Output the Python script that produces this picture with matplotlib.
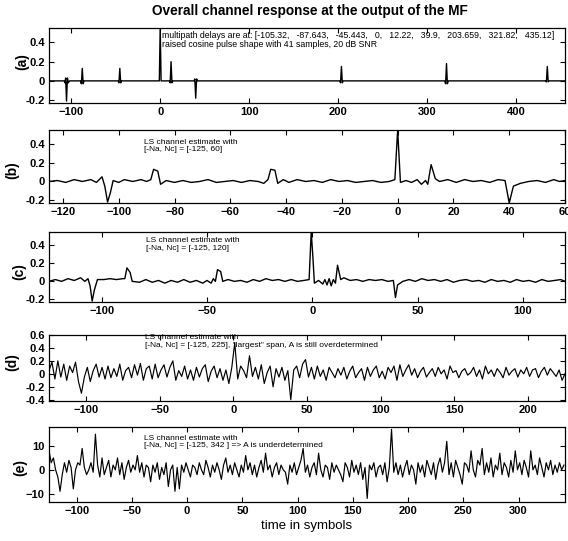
import numpy as np
import matplotlib
matplotlib.use('Agg')
import matplotlib.pyplot as plt

plt.rcParams['font.family'] = ['Liberation Sans', 'DejaVu Sans']

# (a) overall channel response, break points
a_x = [-125, -108, -107, -106.3, -105.3, -104.3, -103.3, -102,
       -89.6, -88.6, -87.6, -86.6, -85.6,
       -47.4, -46.4, -45.4, -44.4, -43.4,
       -1, 0, 1,
       10.2, 11.2, 12.2, 13.2, 14.2,
       37.9, 38.9, 39.9, 40.9, 41.9,
       201.7, 202.7, 203.7, 204.7, 205.7,
       319.8, 320.8, 321.8, 322.8, 323.8,
       433.1, 434.1, 435.1, 436.1, 437.1, 455]
a_y = [0.0, 0.0, -0.02, 0.03, -0.21, 0.03, -0.02, 0.0,
       0.0, -0.03, 0.13, -0.03, 0.0,
       0.0, -0.02, 0.13, -0.02, 0.0,
       0.0, 0.56, 0.0,
       0.0, -0.02, 0.2, -0.02, 0.0,
       0.0, 0.02, -0.18, 0.02, 0.0,
       0.0, -0.02, 0.15, -0.02, 0.0,
       0.0, -0.03, 0.18, -0.03, 0.0,
       0.0, -0.01, 0.15, -0.01, 0.0, 0.0]

# (b) LS estimate, [-125, 60]
b_x = [-125, -122, -119, -116, -113, -110, -108, -106, -105, -104, -103, -102,
       -100, -98, -95, -92, -90, -88.5, -87.5, -86, -85, -83, -80, -77, -74,
       -71, -68, -65, -62, -59, -56, -53, -50, -48, -46.5, -45.5, -44, -43,
       -41, -39, -36, -33, -30, -27, -24, -21, -18, -15, -12, -9, -6, -3, -1,
       0, 1, 3, 5, 7, 8.5, 10, 10.8, 12, 13.5, 15, 18, 21, 24, 27, 30, 33, 36,
       38.5, 40, 41.5, 44, 47, 50, 53, 56, 58, 60]
b_y = [0.0, 0.01, -0.01, 0.02, 0.0, 0.02, -0.01, 0.05, -0.05, -0.22, -0.12, 0.01,
       -0.01, 0.02, 0.0, 0.02, 0.0, 0.02, 0.13, 0.11, -0.03, 0.01, -0.01, 0.01, -0.01,
       0.0, 0.02, -0.01, 0.0, 0.01, -0.01, 0.01, 0.0, -0.02, 0.02, 0.13, 0.12, -0.02,
       0.02, -0.01, 0.02, 0.0, 0.01, -0.01, 0.02, 0.0, 0.01, -0.01, 0.0, 0.01, -0.01, 0.0, 0.02,
       0.55, -0.01, 0.01, -0.01, 0.02, -0.03, 0.01, -0.03, 0.18, 0.03, 0.0, 0.02, -0.01, 0.02, 0.0, 0.01, -0.01, 0.02,
       0.01, -0.23, -0.05, -0.02, 0.0, 0.01, -0.01, 0.02, 0.0, 0.01]

# (c) LS estimate, [-125, 120]
c_x = [-125, -122, -119, -116, -113, -110, -108, -106.5, -105.5, -104.5, -103.5, -102,
       -99, -96, -93, -90, -89, -88, -86.5, -85.5, -82, -79, -76, -73, -70, -67,
       -64, -61, -58, -55, -52, -50, -48, -47, -46, -45, -43.5, -42.5, -40, -37,
       -34, -31, -28, -25, -22, -19, -16, -13, -10, -7, -4, -1.5, -0.5, 0.3, 1,
       3, 5, 6, 7, 8, 9, 10, 11, 12, 13.5, 15, 18, 21, 24, 27, 30, 33, 36,
       38.5, 39.5, 40.5, 43, 46, 49, 52, 55, 58, 61, 64, 67, 70, 73, 76, 79,
       82, 85, 88, 91, 94, 97, 100, 103, 106, 109, 112, 115, 118, 120]
c_y = [0.0, 0.02, 0.0, 0.03, 0.01, 0.04, 0.0, 0.03, -0.05, -0.22, -0.1, 0.02,
       0.02, 0.03, 0.02, 0.03, 0.03, 0.15, 0.1, 0.0, -0.01, 0.02, -0.01, 0.01, -0.02, 0.01,
       -0.01, 0.02, -0.01, 0.01, -0.02, 0.01, -0.02, 0.03, 0.0, 0.13, 0.11, 0.0, 0.02, 0.0,
       0.01, -0.01, 0.02, 0.0, 0.03, 0.01, 0.02, 0.0, 0.02, 0.0, 0.01, 0.02, 0.55, 0.27, -0.02,
       0.01, -0.03, 0.02, -0.04, 0.03, -0.05, 0.02, -0.02, 0.18, 0.02, 0.04, 0.01, 0.02, 0.0, 0.02, 0.01, 0.02, 0.0,
       0.01, -0.18, -0.04, 0.0, 0.02, 0.0, 0.03, 0.01, 0.02, 0.0, 0.02, -0.01, 0.01, 0.02, 0.0, 0.01,
       -0.01, 0.02, 0.0, 0.01, -0.01, 0.02, 0.0, 0.01, -0.01, 0.02, 0.0, 0.01, 0.02, 0.0]

# (d) LS estimate, [-125, 225], one value every 2 symbols
d_t = np.arange(-125, 226, 2)
d_y = [0.05, 0.18, -0.08, 0.2, -0.05, 0.15, -0.1, 0.12, 0.02, 0.18,
       -0.12, -0.3, -0.05, 0.1, -0.12, 0.05, 0.15, -0.05, 0.1, -0.08,
       0.12, -0.06, 0.08, -0.04, 0.15, -0.1, 0.05, 0.1, -0.06, 0.14,
       -0.02, 0.16, -0.1, 0.08, 0.12, -0.08, 0.15, -0.06, 0.06, 0.14,
       -0.05, 0.1, 0.2, -0.1, 0.05, -0.04, 0.12, -0.08, 0.06, -0.1,
       0.1, -0.05, 0.08, 0.14, -0.12, 0.04, 0.12, -0.06, 0.08, -0.1,
       0.06, -0.15, 0.1, 0.48, -0.08, 0.12, 0.05, -0.06, 0.28, -0.04,
       0.1, -0.08, 0.14, -0.15, 0.02, 0.12, -0.2, 0.08, -0.05, 0.1,
       -0.1, 0.05, -0.4, 0.06, 0.12, -0.06, 0.15, 0.22, -0.05, 0.1,
       -0.08, 0.12, -0.04, 0.06, -0.1, 0.1, 0.02, -0.06, 0.08, -0.02,
       0.1, -0.08, 0.04, 0.12, -0.06, 0.02, 0.08, -0.1, 0.1, -0.04,
       0.06, 0.12, -0.06, 0.04, -0.08, 0.1, 0.02, 0.12, -0.1, 0.14,
       -0.04, 0.06, 0.14, -0.02, 0.08, -0.06, 0.04, 0.1, -0.05, 0.02,
       0.08, -0.04, 0.1, 0.0, 0.06, -0.08, 0.12, 0.02, 0.05, -0.06,
       0.04, 0.08, -0.02, 0.02, 0.1, -0.04, 0.06, -0.08, 0.12, 0.0,
       0.06, -0.04, 0.08, 0.02, -0.06, 0.1, -0.02, 0.04, 0.08, -0.05,
       0.06, 0.0, 0.1, -0.04, 0.06, 0.08, -0.06, 0.04, 0.1, -0.02,
       0.08, 0.02, -0.04, 0.06, -0.1, 0.0]

# (e) LS estimate, [-125, 342], one value every 2 symbols
e_t = np.arange(-125, 342, 2)
e_y = [8, 3, 5, 0, -3, -9, -2, 3, -1, 4,
       1, -8, 0, 3, 2, 9, 1, -2, 0, 3,
       -1, 15, 2, -3, 5, -2, 1, 4, -3, 2,
       0, 5, -2, 3, -4, 1, 4, -1, 2, 0,
       6, -1, 3, -3, 2, 1, -5, 2, -1, 3,
       -4, 1, -2, 3, -7, 0, 2, -9, 1, -8,
       2, -1, 3, 0, -3, 2, 1, -2, 3, 0,
       -2, 4, 1, -3, 2, -1, 3, 0, -4, 2,
       5, -1, 2, -2, 3, 0, -3, 2, -1, 6,
       0, 3, -2, 2, -3, 1, 4, -1, 7, 0,
       2, -3, 1, 3, -2, 2, 0, -1, -6, 2,
       -1, 3, -2, 1, 4, 9, -1, 2, -3, 1,
       3, -2, 7, 0, -3, 2, 1, -4, 3, -1,
       2, 0, -2, -5, 3, 1, -3, 4, -1, 2,
       -2, 3, -4, 1, -12, 2, 0, 3, -3, 1,
       2, -2, 3, -5, 1, 17, -1, 3, -2, 2,
       -3, 1, 4, -2, 2, 0, -6, 3, -1, 2,
       -3, 4, 1, -2, 3, -4, 2, 5, -1, 3,
       12, -2, 3, -3, 4, 1, -2, -6, 3, 2,
       -1, 8, 0, -3, 4, 2, 9, -2, 3, -1,
       5, -3, 2, 0, 7, -2, 3, 1, -3, 4,
       -1, 8, 0, 3, -2, 4, 1, -3, 8, 0,
       2, -2, 5, 1, -3, 3, 0, 4, -2, 2,
       -1, 3, 0, 2]

small_yticks = [-0.2, 0, 0.2, 0.4]
small_ylabels = ['-0.2', '0', '0.2', '0.4']
d_yticks = [-0.4, -0.2, 0, 0.2, 0.4, 0.6]
d_ylabels = ['-0.4', '-0.2', '0', '0.2', '0.4', '0.6']
e_yticks = [-10, 0, 10]

note_a = ('multipath delays are at: [-105.32,   -87.643,   -45.443,   0,   12.22,   39.9,   '
          '203.659,   321.82,   435.12]\nraised cosine pulse shape with 41 samples, 20 dB SNR')
note_b = 'LS channel estimate with\n[-Na, Nc] = [-125, 60]'
note_c = 'LS channel estimate with\n[-Na, Nc] = [-125, 120]'
note_d = 'LS channel estimate with\n[-Na, Nc] = [-125, 225], "largest" span, A is still overdetermined'
note_e = 'LS channel estimate with\n[-Na, Nc] = [-125, 342 ] => A is underdetermined'

fig = plt.figure(figsize=(5.68, 5.41), dpi=100)
W, H = 568.0, 541.0

def make_axes(top, bottom):
    return fig.add_axes([49 / W, 1 - bottom / H, (565 - 49) / W, (bottom - top) / H])

ax_a = make_axes(28, 103)
ax_b = make_axes(130, 203)
ax_c = make_axes(232, 302)
ax_d = make_axes(335, 401)
ax_e = make_axes(427, 502)

ax_a.plot(a_x, a_y, color='black', lw=1.0)
ax_a.set_xlim(-125, 455)
ax_a.set_ylim(-0.23, 0.55)
ax_a.set_xticks([-100, 0, 100, 200, 300, 400])
ax_a.set_yticks(small_yticks)
ax_a.set_yticklabels(small_ylabels)
ax_a.text(2.5, 0.43, note_a, fontsize=6.3, va='center', ha='left', linespacing=1.0,
          clip_on=True)

ax_b.plot(b_x, b_y, color='black', lw=1.0)
ax_b.set_xlim(-125, 60)
ax_b.set_ylim(-0.23, 0.55)
ax_b.set_xticks(np.arange(-120, 61, 20))
ax_b.set_yticks(small_yticks)
ax_b.set_yticklabels(small_ylabels)
ax_b.text(-91, 0.38, note_b, fontsize=6.0, va='center', ha='left', linespacing=1.1)

ax_c.plot(c_x, c_y, color='black', lw=1.0)
ax_c.set_xlim(-125, 120)
ax_c.set_ylim(-0.23, 0.55)
ax_c.set_xticks([-100, -50, 0, 50, 100])
ax_c.set_yticks(small_yticks)
ax_c.set_yticklabels(small_ylabels)
ax_c.text(-79, 0.41, note_c, fontsize=6.0, va='center', ha='left', linespacing=1.1)

ax_d.plot(d_t, d_y, color='black', lw=0.85)
ax_d.set_xlim(-125, 225)
ax_d.set_ylim(-0.42, 0.6)
ax_d.set_xticks([-100, -50, 0, 50, 100, 150, 200])
ax_d.set_yticks(d_yticks)
ax_d.set_yticklabels(d_ylabels)
ax_d.text(-60, 0.5, note_d, fontsize=6.0, va='center', ha='left', linespacing=1.1)

ax_e.plot(e_t, e_y, color='black', lw=0.85)
ax_e.set_xlim(-125, 342)
ax_e.set_ylim(-13.5, 18)
ax_e.set_xticks([-100, -50, 0, 50, 100, 150, 200, 250, 300])
ax_e.set_yticks(e_yticks)
ax_e.text(-39, 11.6, note_e, fontsize=6.0, va='center', ha='left', linespacing=1.1)
ax_e.set_xlabel('time in symbols', fontsize=9.5, labelpad=3)

for ax in [ax_a, ax_b, ax_c, ax_d, ax_e]:
    ax.tick_params(direction='in', top=True, right=True, length=3.5, width=0.8,
                   labelsize=8, pad=3)
    for lab in ax.get_xticklabels() + ax.get_yticklabels():
        lab.set_fontweight('bold')
    for sp in ax.spines.values():
        sp.set_linewidth(0.9)

# panel labels
for lab, x, y in [('(a)', 22, 62), ('(b)', 12, 170), ('(c)', 19, 272),
                  ('(d)', 12, 362), ('(e)', 20, 467)]:
    fig.text(x / W, 1 - y / H, lab, rotation=90, fontsize=10, fontweight='bold',
             ha='center', va='center')

fig.text(310 / W, 1 - 11 / H, 'Overall channel response at the output of the MF',
         fontsize=9.8, fontweight='bold', ha='center', va='center')

fig.savefig('out.png', dpi=100)
